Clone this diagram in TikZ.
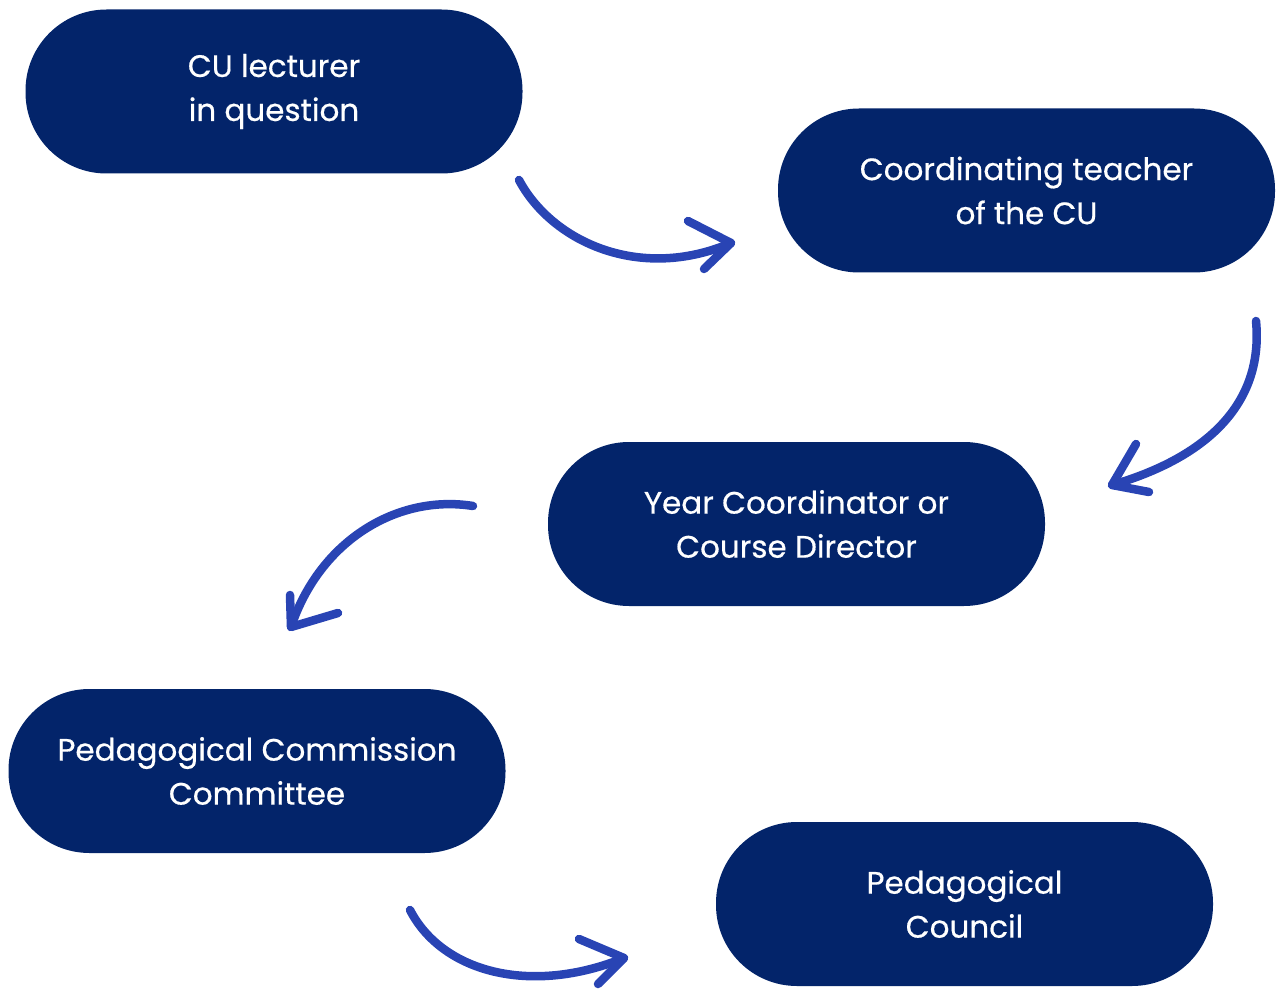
\documentclass[tikz,border=0pt]{standalone}
\usepackage{fontspec}
\setmainfont{Poppins}[FakeBold=0.5]
\definecolor{navy}{RGB}{3,36,106}
\definecolor{arrowblue}{RGB}{41,68,180}
\begin{document}
\begin{tikzpicture}[x=1pt,y=-1pt,
  box/.style={fill=navy,text=white,minimum width=497pt,minimum height=164pt,
    rounded corners=81pt,align=center,inner sep=0pt,
    font=\fontsize{31}{44}\selectfont},
  flow/.style={draw=arrowblue,line width=8.5pt,line cap=round,line join=round},
  tip/.style={draw=arrowblue,line width=8.5pt,line cap=round,line join=round}]
\useasboundingbox (0,0) rectangle (1277,992);
\node[box] (n1) at (274,91.5) {CU lecturer\\in question};
\node[box] (n2) at (1026.5,190.5) {Coordinating teacher\\of the CU};
\node[box] (n3) at (796.5,524) {Year Coordinator or\\Course Director};
\node[box] (n4) at (257,771) {Pedagogical Commission\\Committee};
\node[box] (n5) at (964.5,904) {Pedagogical\\Council};
% arrow 1
\coordinate (a1s) at (519,180);
\coordinate (a1e) at (731,243);
\draw[flow] (a1s) .. controls (552,242) and (640,282) .. (a1e);
\draw[tip] (688,221) -- (a1e) -- (704,269);
% arrow 2
\coordinate (a2s) at (1256,321);
\coordinate (a2e) at (1112,485);
\draw[flow] (a2s) .. controls (1264,405) and (1205,458) .. (a2e);
\draw[tip] (1136,444) -- (a2e) -- (1149,492);
% arrow 3
\coordinate (a3s) at (473,506);
\coordinate (a3e) at (291,627);
\draw[flow] (a3s) .. controls (398,494) and (320,540) .. (a3e);
\draw[tip] (290,595) -- (a3e) -- (338,613);
% arrow 4
\coordinate (a4s) at (410,910);
\coordinate (a4e) at (624,958);
\draw[flow] (a4s) .. controls (442,972) and (530,996) .. (a4e);
\draw[tip] (579,939) -- (a4e) -- (598,984);
\end{tikzpicture}
\end{document}
